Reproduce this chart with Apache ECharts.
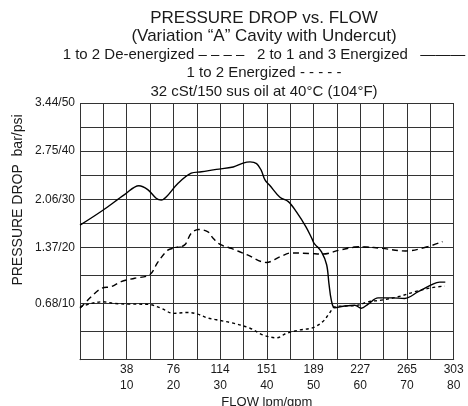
<!doctype html>
<html lang="en">
<head>
<meta charset="utf-8">
<title>pressure-drop</title>
<script src="https://cdn.jsdelivr.net/npm/echarts@6/dist/echarts.min.js"></script>
<style>
    *{margin:0;padding:0}
    html,body{width:100%;height:100%;background:#fff}
    #main{width:468px;height:406px}
</style>
</head>
<body>
<div id="main"></div>
<script type="text/javascript">
    var font = 'Liberation Sans, Arial, Helvetica, sans-serif';
    var ink = '#1a1a1a';

    // flow axis: gpm value, lpm shown above it
    var gpmTicks = [10, 20, 30, 40, 50, 60, 70, 80];
    var lpmTicks = ['38', '76', '114', '151', '189', '227', '265', '303'];
    // pressure axis: psi value, bar shown before it
    var psiTicks = [10, 20, 30, 40, 50];
    var barTicks = ['0.68', '1.37', '2.06', '2.75', '3.44'];

    // [gpm, psi]
    var energized213 = [
        [0, 24.6], [4.9, 27.7], [9.6, 31.0], [12.6, 32.8], [14.5, 32.0], [16.3, 30.2],
        [17.4, 29.8], [18.5, 30.5], [21, 33.3], [23.8, 35.4], [26, 35.7], [29.2, 36.2],
        [32.8, 36.7], [34.9, 37.5], [36.4, 37.75], [37.8, 37.4], [38.8, 36.0], [39.6, 34.0],
        [40.6, 32.9], [42.8, 30.4], [44.6, 29.5], [46.3, 27.4], [48.4, 24.2], [49.7, 21.7],
        [50.2, 20.7], [51.7, 19.2], [52.8, 16.9], [53.3, 13.5], [53.8, 10.6], [54.5, 9.25],
        [56.7, 9.55], [58.8, 9.7], [60.2, 9.15], [61.7, 9.9], [63.8, 11.0], [66.7, 11.0],
        [69.5, 10.9], [72.4, 12.1], [75.2, 13.3], [77, 13.8], [78.2, 13.8]
    ];
    var deEnergized12 = [
        [0, 9.15], [2.4, 11.2], [4.6, 12.7], [6.7, 13.0], [8.8, 13.9], [11.7, 14.5],
        [14.9, 15.1], [16.7, 17.4], [18.8, 19.5], [20.3, 19.9], [22.4, 20.5], [23.8, 22.9],
        [25.4, 23.7], [27.4, 23.2], [28.5, 21.9], [30, 20.6], [32.4, 19.8], [35.7, 18.7],
        [39.9, 17.3], [42.8, 18.3], [45.2, 19.0], [49.2, 18.9], [52, 18.8], [55.6, 19.5],
        [59.9, 20.1], [64.7, 19.8], [69.7, 19.35], [74, 20.0], [77.6, 21.2]
    ];
    var energized12 = [
        [0, 9.4], [2.4, 10.0], [4.9, 10.3], [7.4, 10.0], [10.3, 9.9], [14.5, 9.85],
        [17.4, 9.15], [19.9, 8.25], [23.1, 8.4], [25.2, 8.1], [27.4, 7.4], [29.2, 7.1],
        [32.8, 6.5], [36.4, 5.6], [39.2, 4.4], [42.1, 3.9], [44.2, 4.7], [47.1, 5.3],
        [49.9, 5.7], [52, 6.8], [53.5, 8.4], [54.5, 9.4], [56.7, 9.55], [59.5, 9.7],
        [61.7, 10.3], [64.5, 10.6], [68.1, 11.2], [71.7, 12.1], [75.2, 12.8], [78.1, 13.1]
    ];

    var myChart = echarts.init(document.getElementById('main'));

    // the reference has taller rows below 20 psi, so two stacked grids share the y range
    function lineSeries(name, data, dash, idx) {
        return {
            name: name,
            type: 'line',
            xAxisIndex: idx,
            yAxisIndex: idx,
            data: data,
            smooth: 0.35,
            symbol: 'none',
            clip: true,
            lineStyle: {color: '#000', width: 1.4, type: dash}
        };
    }

    function psiLabel(v) {
        var i = psiTicks.indexOf(v);
        return i < 0 ? '' : barTicks[i] + '/' + v;
    }

    function flowLabel(v) {
        var i = gpmTicks.indexOf(v);
        return i < 0 ? '' : lpmTicks[i] + '\n' + v;
    }

    var split = {show: true, lineStyle: {color: '#333', width: 1}};

    var series = [];
    [0, 1].forEach(function(idx) {
        series.push(lineSeries('2 to 1 and 3 Energized', energized213, 'solid', idx));
        series.push(lineSeries('1 to 2 De-energized', deEnergized12, [6, 4], idx));
        series.push(lineSeries('1 to 2 Energized', energized12, [3, 3], idx));
    });

    function titleLine(text, top, size) {
        return {
            text: text, left: 264, top: top, textAlign: 'center', padding: 0,
            textStyle: {fontSize: size, fontWeight: 'normal', color: ink, fontFamily: font}
        };
    }

    var option = {
        backgroundColor: '#fff',
        animation: false,
        title: [
            titleLine('PRESSURE DROP vs. FLOW', 10, 17),
            titleLine('(Variation \u201cA\u201d Cavity with Undercut)', 28, 17),
            titleLine('1 to 2 De-energized \u2013 \u2013 \u2013 \u2013   2 to 1 and 3 Energized   \u2014\u2014\u2014', 47, 15),
            titleLine('1 to 2 Energized - - - - -', 65, 15),
            titleLine('32 cSt/150 sus oil at 40\u00b0C (104\u00b0F)', 84, 15)
        ],
        graphic: [{
            type: 'text',
            x: 18,
            y: 200,
            rotation: Math.PI / 2,
            style: {
                text: 'PRESSURE DROP  bar/psi',
                align: 'center',
                verticalAlign: 'middle',
                fontSize: 14,
                fontFamily: font,
                fill: ink
            }
        }],
        grid: [
            {left: 80, right: 14.3, top: 103, bottom: 158.7, outerBoundsMode: 'none'},
            {left: 80, right: 14.3, top: 247.3, bottom: 46.3, outerBoundsMode: 'none'}
        ],
        xAxis: [{
            gridIndex: 0, type: 'value', min: 0, max: 80, interval: 5,
            axisLine: {show: false}, axisTick: {show: false}, axisLabel: {show: false},
            splitLine: split
        }, {
            gridIndex: 1, type: 'value', min: 0, max: 80, interval: 5,
            name: 'FLOW lpm/gpm', nameLocation: 'middle', nameGap: 36,
            nameTextStyle: {fontSize: 13, color: ink, fontFamily: font},
            axisLine: {show: true, lineStyle: {color: '#333'}}, axisTick: {show: false},
            axisLabel: {
                formatter: flowLabel, fontSize: 12, lineHeight: 16, margin: 2,
                color: ink, fontFamily: font, showMinLabel: false
            },
            splitLine: split
        }],
        yAxis: [{
            gridIndex: 0, type: 'value', min: 20, max: 50, interval: 5,
            axisLine: {show: false}, axisTick: {show: false},
            axisLabel: {formatter: psiLabel, fontSize: 12, margin: 5, color: ink, fontFamily: font, showMinLabel: false},
            splitLine: split
        }, {
            gridIndex: 1, type: 'value', min: 0, max: 20, interval: 5,
            axisLine: {show: true, lineStyle: {color: '#333'}}, axisTick: {show: false},
            axisLabel: {formatter: psiLabel, fontSize: 12, margin: 5, color: ink, fontFamily: font},
            splitLine: split
        }],
        series: series
    };
    myChart.setOption(option);
</script>
</body>
</html>
